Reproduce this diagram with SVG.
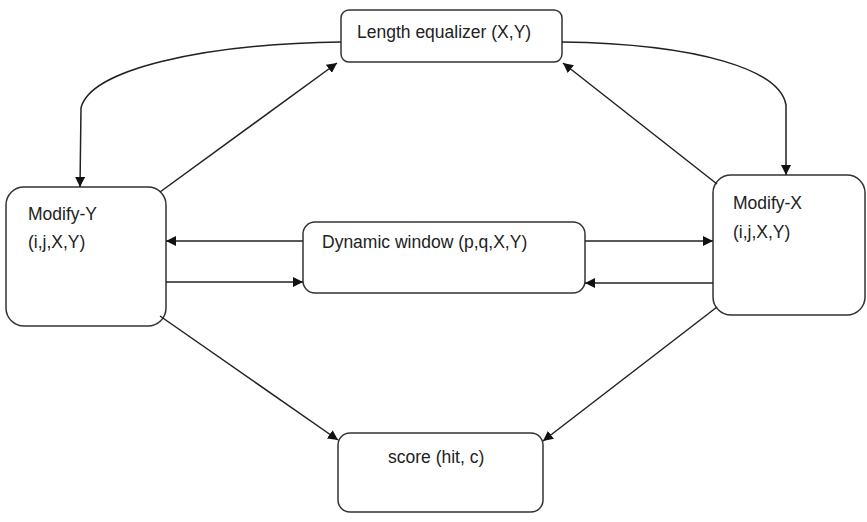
<svg xmlns="http://www.w3.org/2000/svg" width="867" height="522" viewBox="0 0 867 522">
<defs>
<marker id="arr" viewBox="0 0 10 10" refX="10" refY="5" markerWidth="10" markerHeight="10" markerUnits="userSpaceOnUse" orient="auto">
<path d="M0,0 L10,5 L0,10 z" fill="#111"/>
</marker>
</defs>
<style>
.box{fill:#fff;stroke:#333;stroke-width:1.5}
.lbl{font-family:"Liberation Sans",Arial,sans-serif;font-size:17.5px;fill:#222}
.con path,.con line{fill:none;stroke:#222;stroke-width:1.5;marker-end:url(#arr)}
</style>
<rect width="867" height="522" fill="#fff"/>
<g id="length-equalizer">
<rect class="box" x="341" y="10" width="221" height="52" rx="8"/>
<text class="lbl" x="357" y="38">Length equalizer (X,Y)</text>
</g>
<g id="modify-y">
<rect class="box" x="6" y="187" width="160" height="139" rx="18"/>
<text class="lbl" x="28" y="220">Modify-Y</text>
<text class="lbl" x="28" y="248">(i,j,X,Y)</text>
</g>
<g id="modify-x">
<rect class="box" x="713" y="175" width="152" height="140" rx="18"/>
<text class="lbl" x="733" y="209">Modify-X</text>
<text class="lbl" x="733" y="238">(i,j,X,Y)</text>
</g>
<g id="dynamic-window">
<rect class="box" x="303" y="222" width="282" height="71" rx="12"/>
<text class="lbl" x="322" y="248">Dynamic window (p,q,X,Y)</text>
</g>
<g id="score">
<rect class="box" x="338" y="433" width="205" height="79" rx="12"/>
<text class="lbl" x="388" y="463">score (hit, c)</text>
</g>
<g class="con" id="connectors">
<path d="M341,42 C200,44 90,70 81,108 L80,187"/>
<line x1="160" y1="192" x2="337" y2="63"/>
<path d="M562,42 C700,44 780,70 786,105 L786,175"/>
<line x1="717" y1="184" x2="563" y2="63"/>
<line x1="303" y1="241" x2="166" y2="241"/>
<line x1="166" y1="282" x2="303" y2="282"/>
<line x1="585" y1="241" x2="713" y2="241"/>
<line x1="713" y1="283" x2="585" y2="283"/>
<line x1="160" y1="316" x2="338" y2="440"/>
<line x1="717" y1="307" x2="543" y2="441"/>
</g>
</svg>
